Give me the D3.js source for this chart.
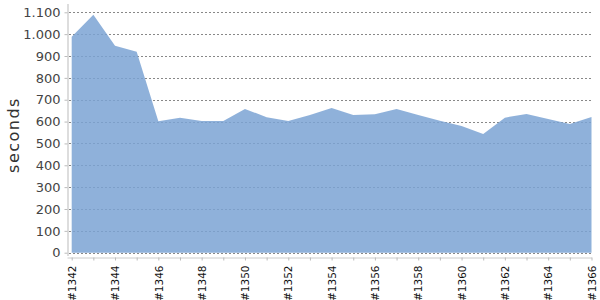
<!DOCTYPE html>
<html>
<head>
<meta charset="utf-8">
<script src="https://cdn.jsdelivr.net/npm/d3@7"></script>
<style>
  body { margin: 0; background: #fff; }
  svg { font-family: "DejaVu Sans", sans-serif; }
</style>
</head>
<body>
<div id="chart"></div>
<script>
// build numbers and their durations
var builds = ['#1342','#1343','#1344','#1345','#1346','#1347','#1348','#1349','#1350','#1351','#1352','#1353','#1354',
              '#1355','#1356','#1357','#1358','#1359','#1360','#1361','#1362','#1363','#1364','#1365','#1366']
var durations = [988,1089,947,920,601,618,603,603,658,620,603,630,662,630,634,658,630,604,580,543,618,635,612,589,621]
var yTicks = [0,100,200,300,400,500,600,700,800,900,1000,1100]

var width = 600, height = 300
var svg = d3.select('#chart').append('svg').attr('width', width).attr('height', height)

var x = d3.scalePoint().domain(builds).range([71.7, 591.5])
var y = d3.scaleLinear().domain([0, 1100]).range([252.7, 12.3])

var fmt = function(v){ return d3.format(',')(v).replace(/,/g, '.') }

// grid lines
svg.append('g').selectAll('line').data(yTicks).enter()
  .append('line')
  .attr('x1', 69).attr('x2', 591.5)
  .attr('y1', function(d){ return Math.round(y(d)) + 0.5 })
  .attr('y2', function(d){ return Math.round(y(d)) + 0.5 })
  .attr('stroke', '#888')
  .attr('stroke-dasharray', '2,2')

// area
var area = d3.area()
  .x(function(d, i){ return x(builds[i]) })
  .y0(y(0))
  .y1(function(d){ return y(d) })

svg.append('path').datum(durations)
  .attr('d', area)
  .attr('fill', '#7ba3d4')
  .attr('fill-opacity', 0.85)

// y axis
var yAxis = svg.append('g').attr('transform', 'translate(67.5,0)')
  .call(d3.axisLeft(y).tickValues(yTicks).tickFormat(fmt).tickSize(3).tickPadding(4))
yAxis.select('.domain').attr('stroke', '#bbb').attr('d', 'M0.5,4V256')
yAxis.selectAll('.tick line').attr('stroke', '#bbb')
yAxis.selectAll('.tick text').attr('fill', '#444').attr('font-size', 13)
  .attr('font-family', '"DejaVu Sans", sans-serif')

// x axis
var xAxis = svg.append('g').attr('transform', 'translate(0,257.5)')
  .call(d3.axisBottom(x).tickSize(3).tickFormat(function(d, i){ return i % 2 === 0 ? d : '' }))
xAxis.select('.domain').attr('stroke', '#ccc').attr('d', 'M67.5,0.5H592')
xAxis.selectAll('.tick line').attr('stroke', '#bbb')
xAxis.selectAll('.tick text')
  .attr('fill', '#111')
  .attr('font-size', 10.5)
  .attr('font-family', '"DejaVu Sans", sans-serif')
  .attr('text-anchor', 'end')
  .attr('transform', 'rotate(-90)')
  .attr('x', -8)
  .attr('y', 0)
  .attr('dy', '0.35em')

// y label
svg.append('text')
  .attr('transform', 'translate(19,135) rotate(-90)')
  .attr('text-anchor', 'middle')
  .attr('fill', '#333')
  .attr('font-size', 16)
  .attr('letter-spacing', 1.5)
  .text('seconds')
</script>
</body>
</html>
